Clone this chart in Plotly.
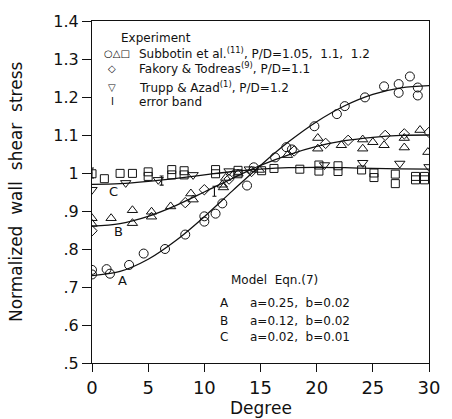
import plotly.graph_objects as go

# Model curves (Eqn. 7), sampled every 2.5 degrees
model_deg = [0, 2.5, 5, 7.5, 10, 12.5, 15, 17.5, 20, 22.5, 25, 27.5, 30]
model_a = [0.730, 0.741, 0.773, 0.823, 0.885, 0.953, 1.020, 1.082, 1.135, 1.177, 1.207, 1.224, 1.230]
model_b = [0.860, 0.867, 0.886, 0.915, 0.950, 0.986, 1.020, 1.048, 1.070, 1.085, 1.094, 1.099, 1.100]
model_c = [0.970, 0.972, 0.978, 0.986, 0.995, 1.004, 1.010, 1.014, 1.015, 1.014, 1.012, 1.011, 1.010]

# Subbotin et al., P/D=1.05 (circles)
circ_x = [0, 0, 1.3, 1.6, 3.3, 4.6, 6.5, 8.3, 10.0, 10.0, 11.0, 11.6, 13.8, 14.4, 16.3,
          17.3, 17.8, 19.8, 21.8, 22.5, 24.3, 26.0, 27.3, 27.3, 28.3, 29.0, 29.0]
circ_y = [0.745, 0.733, 0.747, 0.735, 0.758, 0.788, 0.800, 0.838, 0.886, 0.872, 0.893, 0.920,
          0.967, 1.015, 1.041, 1.068, 1.062, 1.123, 1.155, 1.176, 1.199, 1.228, 1.234, 1.211,
          1.254, 1.225, 1.204]

# Subbotin et al., P/D=1.1 (triangles)
tri_x = [0, 0, 1.7, 3.6, 3.6, 5.3, 5.3, 7.0, 8.8, 9.0, 11.6, 11.7, 11.9, 13.0, 14.9, 17.4,
         20.1, 20.1, 22.2, 24.1, 24.1, 25.0, 26.0, 27.8, 27.8, 29.2, 29.9]
tri_y = [0.881, 0.866, 0.881, 0.902, 0.868, 0.898, 0.885, 0.912, 0.946, 0.930, 0.969, 0.962,
         0.987, 0.998, 1.008, 1.047, 1.092, 1.064, 1.073, 1.088, 1.064, 1.081, 1.073, 1.092,
         1.067, 1.113, 1.055]

# Subbotin et al., P/D=1.2 (squares)
sq_x = [0, 1.1, 2.5, 3.6, 5.0, 5.0, 7.1, 7.1, 8.2, 8.2, 11.0, 11.0, 13.0, 13.0, 15.1, 16.2,
        18.5, 20.2, 20.2, 21.9, 21.9, 24.0, 25.1, 25.1, 27.0, 27.0, 28.8, 28.8, 29.6, 29.6]
sq_y = [0.998, 0.985, 0.999, 0.999, 1.003, 0.991, 1.009, 0.995, 1.006, 0.995, 1.009, 0.998,
        1.007, 0.998, 1.006, 1.012, 1.010, 1.021, 1.005, 1.019, 1.004, 1.008, 1.000, 0.988,
        0.997, 0.972, 0.991, 0.982, 0.991, 0.982]

# Fakory & Todreas, P/D=1.1 (diamonds)
dia_x = [0, 8.3, 10.0, 12.2, 14.2, 18.0, 20.8, 22.8, 26.1, 27.8, 30.0]
dia_y = [0.848, 0.922, 0.956, 0.984, 1.004, 1.058, 1.078, 1.086, 1.099, 1.103, 1.107]

# Trupp & Azad, P/D=1.2 (inverted triangles)
inv_x = [0, 3.0, 5.9, 9.0, 12.2, 14.0, 20.7, 24.1, 27.4, 30.0]
inv_y = [0.956, 0.974, 0.982, 0.995, 1.005, 1.010, 1.021, 1.027, 1.025, 1.016]

# Error bands
err_x = [0, 6.2, 10.9]
err_y = [1.000, 0.980, 0.952]
err_half = [0.013, 0.012, 0.013]

x_ticks = [0, 5, 10, 15, 20, 25, 30]
y_ticks = [0.5, 0.6, 0.7, 0.8, 0.9, 1.0, 1.1, 1.2, 1.3, 1.4]
y_tick_text = [".5", ".6", ".7", ".8", ".9", "1", "1.1", "1.2", "1.3", "1.4"]

FONT = "DejaVu Sans"
INK = "#111111"

fig = go.Figure()

for ys in (model_a, model_b, model_c):
    fig.add_trace(go.Scatter(x=model_deg, y=ys, mode="lines",
                             line=dict(color=INK, width=1.3, shape="spline"),
                             hoverinfo="skip"))

def markers(xs, ys, symbol, size):
    fig.add_trace(go.Scatter(
        x=xs, y=ys, mode="markers",
        marker=dict(symbol=symbol, size=size, color=INK,
                    line=dict(color=INK, width=1.0))))

markers(circ_x, circ_y, "circle-open", 9)
markers(tri_x, tri_y, "triangle-up-open", 9)
markers(sq_x, sq_y, "square-open", 8)
markers(dia_x, dia_y, "diamond-open", 8)
markers(inv_x, inv_y, "triangle-down-open", 9)

fig.add_trace(go.Scatter(
    x=err_x, y=err_y, mode="markers",
    marker=dict(size=1, color=INK),
    error_y=dict(type="data", array=err_half, color=INK, thickness=1.1, width=2)))

ann = []

def note(x, y, text, size=12, xanchor="left", ref="paper"):
    ann.append(dict(x=x, y=y, xref=ref if ref == "paper" else "x",
                    yref=ref if ref == "paper" else "y", text=text,
                    showarrow=False, xanchor=xanchor, yanchor="middle",
                    font=dict(family=FONT, size=size, color=INK)))

# Curve labels
note(2.7, 0.718, "A", 13, "center", "data")
note(2.4, 0.846, "B", 13, "center", "data")
note(1.9, 0.952, "C", 13, "center", "data")

# Legend block
note(0.081, 0.951, "Experiment")
note(0.030, 0.905, "○△□", 10)
note(0.133, 0.905, "Subbotin et al.<sup>(11)</sup>, P/D=1.05,  1.1,  1.2")
note(0.060, 0.862, "◇", 10, "center")
note(0.133, 0.862, "Fakory & Todreas<sup>(9)</sup>, P/D=1.1")
note(0.060, 0.807, "▽", 10, "center")
note(0.133, 0.807, "Trupp & Azad<sup>(1)</sup>, P/D=1.2")
note(0.060, 0.764, "I", 10, "center")
note(0.133, 0.764, "error band")

# Model block
note(0.406, 0.244, "Model  Eqn.(7)")
note(0.374, 0.175, "A")
note(0.463, 0.175, "a=0.25,  b=0.02")
note(0.374, 0.124, "B")
note(0.463, 0.124, "a=0.12,  b=0.02")
note(0.374, 0.075, "C")
note(0.463, 0.075, "a=0.02,  b=0.01")

# Axis titles
ann.append(dict(x=0, y=0.5, xref="paper", yref="paper", text="Normalized  wall  shear  stress",
                textangle=-90, showarrow=False, xanchor="center", yanchor="middle",
                xshift=-76, font=dict(family=FONT, size=17, color=INK)))
ann.append(dict(x=0.5, y=0, xref="paper", yref="paper", text="Degree",
                showarrow=False, xanchor="center", yanchor="top", yshift=-33,
                font=dict(family=FONT, size=17, color=INK)))

fig.update_layout(
    width=452, height=419,
    margin=dict(l=92, r=12, t=15, b=56),
    paper_bgcolor="white", plot_bgcolor="white",
    showlegend=False,
    annotations=ann,
    xaxis=dict(range=[0, 30], tickvals=x_ticks, showgrid=False, zeroline=False,
               showline=True, linecolor=INK, linewidth=1.2, mirror=True,
               ticks="outside", ticklen=8, tickcolor=INK, tickwidth=1.2,
               tickfont=dict(family=FONT, size=18, color=INK)),
    yaxis=dict(range=[0.5, 1.4], tickvals=y_ticks, ticktext=y_tick_text, showgrid=False,
               zeroline=False, showline=True, linecolor=INK, linewidth=1.2, mirror=True,
               ticks="outside", ticklen=9, tickcolor=INK, tickwidth=1.2,
               tickfont=dict(family=FONT, size=16, color=INK)),
)

fig.write_html("out.html")
